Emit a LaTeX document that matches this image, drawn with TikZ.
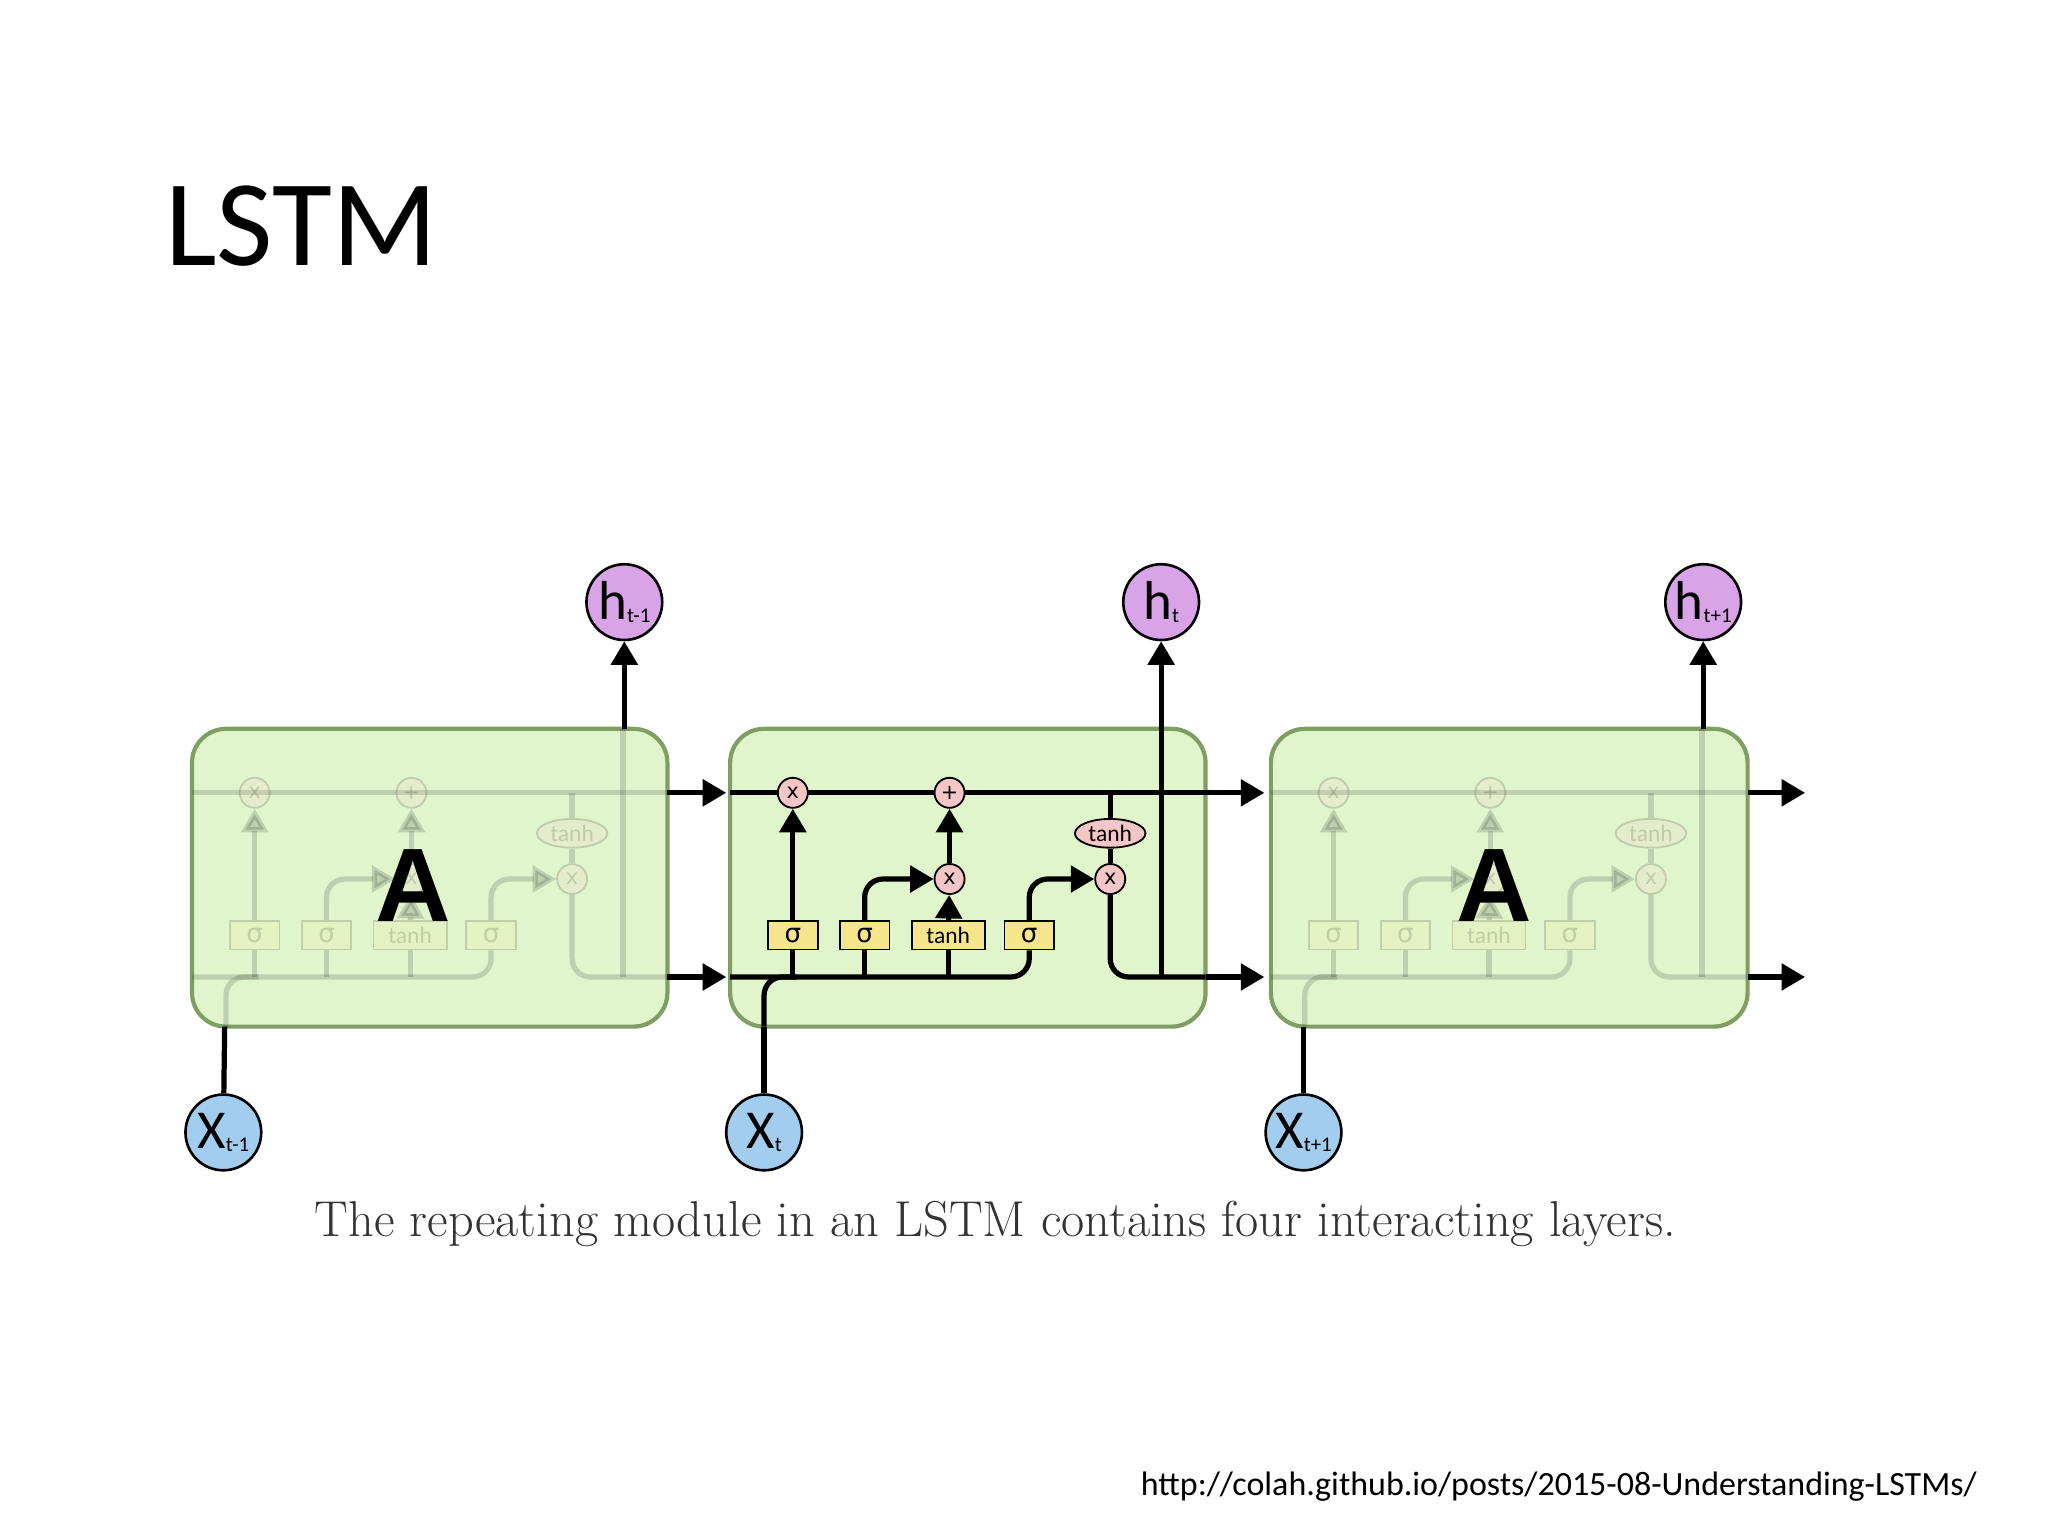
\documentclass[tikz,border=0pt]{standalone}
\usepackage{fontspec}
\setmainfont{Carlito}
\newfontfamily\serifcap{Latin Modern Roman}
\newfontfamily\dejasans{DejaVu Sans}
\newfontfamily\libsans{Liberation Sans}
\usetikzlibrary{arrows.meta,shapes.geometric}
\definecolor{boxg}{HTML}{E0F5CC}
\definecolor{boxb}{HTML}{7F9F62}
\definecolor{pinkc}{HTML}{F5C6C6}
\definecolor{gatey}{HTML}{F5E68C}
\definecolor{purp}{HTML}{D9A3E8}
\definecolor{bluec}{HTML}{A3CDEE}
\tikzset{
 ln/.style={line width=2pt},
 arr/.style={line width=2pt,-{Triangle[length=9pt,width=10pt]}},
 cell/.style={draw=boxb,line width=1.6pt,fill=boxg,rounded corners=13pt},
 mul/.style={circle,draw,fill=pinkc,line width=0.7pt,inner sep=0pt,minimum size=11.5pt,font=\dejasans\fontsize{8}{8}\selectfont},
 tanhe/.style={ellipse,draw,fill=pinkc,line width=0.7pt,inner sep=0.5pt,minimum width=27pt,minimum height=11pt,font=\fontsize{9}{9}\selectfont},
 gate/.style={rectangle,draw,fill=gatey,line width=0.7pt,inner sep=1pt,minimum height=11pt,minimum width=19pt,font=\dejasans\fontsize{10}{10}\selectfont},
 hc/.style={circle,draw,fill=purp,line width=1pt,minimum size=29pt,inner sep=0pt},
 xc/.style={circle,draw,fill=bluec,line width=1pt,minimum size=29pt,inner sep=0pt},
 bigA/.style={font=\libsans\bfseries\fontsize{40}{40}\selectfont},
}
\newcommand{\mycellin}[2]{%
\begin{scope}[shift={(#2,0)}]
 \draw[ln] (559,607) -- (923,607);
 \node[mul] (#1m1) at (607,607) {x};
 \node[mul] (#1add) at (727,607) {+};
 \node[mul] (#1m2) at (727,673) {x};
 \node[mul] (#1m3) at (850,673) {x};
 \node[tanhe] (#1th) at (850,638) {tanh};
 \node[gate] (#1g1) at (607,716) {σ};
 \node[gate] (#1g2) at (662,716) {σ};
 \node[gate,minimum width=28pt,font=\fontsize{9}{9}\selectfont] (#1g3) at (726,716) {tanh};
 \node[gate] (#1g4) at (788,716) {σ};
 \draw[arr] (#1g1) -- (#1m1);
 \draw[arr] (#1g3) -- (#1m2);
 \draw[arr] (#1m2) -- (#1add);
 \draw[arr,rounded corners=7pt] (#1g2.north) |- (#1m2.west);
 \draw[arr,rounded corners=7pt] (#1g4.north) |- (#1m3.west);
 \draw[ln] (#1m3) -- (#1th);
 \draw[ln] (850,607) -- (#1th);
 \draw[ln,rounded corners=7pt] (559,748) -| (#1g4.south);
 \draw[ln] (#1g1.south) -- (607,748);
 \draw[ln] (#1g2.south) -- (662,748);
 \draw[ln] (#1g3.south) -- (726,748);
 \draw[ln,rounded corners=7pt] (585,786) |- (610,748);
 \draw[ln,rounded corners=7pt] (#1m3.south) |- (923,748);
 \draw[ln] (889,748) -- (889,558);
\end{scope}}
\begin{document}
\begin{tikzpicture}[x=0.5pt,y=-0.5pt]
\useasboundingbox[fill=white] (0,0) rectangle (1568,1176);
\node[anchor=base west,inner sep=0pt,font=\fontsize{47}{47}\selectfont] (title) at (126,203) {LSTM};
% boxes
\draw[cell] (147,558) rectangle (511,786);
\draw[cell] (559,558) rectangle (923,786);
\draw[cell] (973,558) rectangle (1338,786);
\begin{scope}[opacity=0.15]\mycellin{L}{-412}\end{scope}
\begin{scope}[opacity=0.15]\mycellin{R}{414}\end{scope}
\mycellin{M}{0}
\node[bigA] (A1) at (316,678) {A};
\node[bigA] (A2) at (1144,678) {A};
% inter-cell arrows
\coordinate (c1) at (511,607); \coordinate (c2) at (556,607);
\coordinate (c3) at (923,607); \coordinate (c4) at (968,607);
\coordinate (c5) at (1338,607); \coordinate (c6) at (1382,607);
\coordinate (d1) at (511,748); \coordinate (d2) at (556,748);
\coordinate (d3) at (923,748); \coordinate (d4) at (968,748);
\coordinate (d5) at (1338,748); \coordinate (d6) at (1382,748);
\draw[arr] (c1) -- (c2); \draw[arr] (c3) -- (c4); \draw[arr] (c5) -- (c6);
\draw[arr] (d1) -- (d2); \draw[arr] (d3) -- (d4); \draw[arr] (d5) -- (d6);
% h nodes
\node[hc] (h1) at (478,461) {\fontsize{21}{21}\selectfont h\raisebox{-1pt}{\fontsize{8}{8}\selectfont t-1}};
\node[hc] (h2) at (889,461) {\fontsize{21}{21}\selectfont h\raisebox{-1pt}{\fontsize{8}{8}\selectfont t}};
\node[hc] (h3) at (1304,461) {\fontsize{21}{21}\selectfont h\raisebox{-1pt}{\fontsize{8}{8}\selectfont t+1}};
\coordinate (t1) at (478,558); \coordinate (t2) at (889,558); \coordinate (t3) at (1304,558);
\draw[arr] (t1) -- (h1); \draw[arr] (t2) -- (h2); \draw[arr] (t3) -- (h3);
% x nodes
\node[xc] (x1) at (171,867) {\fontsize{21}{21}\selectfont X\raisebox{-1pt}{\fontsize{8}{8}\selectfont t-1}};
\node[xc] (x2) at (585,867) {\fontsize{21}{21}\selectfont X\raisebox{-1pt}{\fontsize{8}{8}\selectfont t}};
\node[xc] (x3) at (998,867) {\fontsize{21}{21}\selectfont X\raisebox{-1pt}{\fontsize{8}{8}\selectfont t+1}};
\coordinate (b1) at (172,786); \coordinate (b2) at (585,786); \coordinate (b3) at (998,786);
\draw[ln] (x1) -- (b1); \draw[ln] (x2) -- (b2); \draw[ln] (x3) -- (b3);
\node[font=\serifcap\fontsize{19.3}{19.3}\selectfont,text=black!80] (cap) at (762,937) {The repeating module in an LSTM contains four interacting layers.};
\node[anchor=base east,inner sep=0pt,font=\fontsize{13}{13}\selectfont] (url) at (1514,1145) {http://colah.github.io/posts/2015-08-Understanding-LSTMs/};
\end{tikzpicture}
\end{document}
